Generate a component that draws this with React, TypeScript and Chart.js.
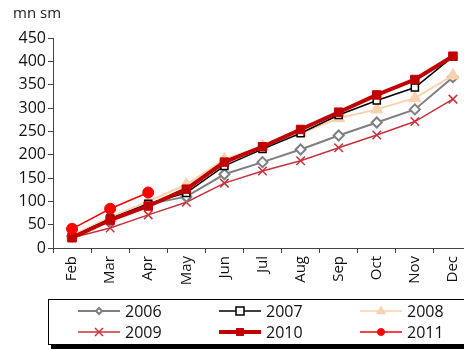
import React, { useEffect, useRef } from "react";
import { Chart, registerables } from "chart.js";

Chart.register(...registerables);

const months = ["Feb", "Mar", "Apr", "May", "Jun", "Jul", "Aug", "Sep", "Oct", "Nov", "Dec"];
const yTicks = [0, 50, 100, 150, 200, 250, 300, 350, 400, 450];
const unitLabel = "mn sm";

const s2006 = [25, 58, 94, 110, 158, 184, 211, 241, 269, 297, 366];
const s2007 = [24, 63, 95, 118, 176, 212, 246, 285, 316, 344, 410];
const s2008 = [27, 66, 100, 136, 190, 218, 246, 278, 297, 321, 370];
const s2009 = [22, 43, 71, 98, 139, 165, 187, 215, 242, 271, 319];
const s2010 = [22, 60, 90, 126, 184, 217, 254, 291, 328, 361, 411];
const s2011 = [41, 84, 119, null, null, null, null, null, null, null, null];

const FONT = "'Open Sans', 'DejaVu Sans', sans-serif";

function drawPoint(ctx: any, style: string, x: number, y: number, r: number, fill: string, stroke: string, lw: number) {
  ctx.save();
  ctx.fillStyle = fill;
  ctx.strokeStyle = stroke;
  ctx.lineWidth = lw;
  ctx.beginPath();
  if (style === "rectRot") {
    ctx.moveTo(x, y - r);
    ctx.lineTo(x + r, y);
    ctx.lineTo(x, y + r);
    ctx.lineTo(x - r, y);
    ctx.closePath();
    ctx.fill();
    ctx.stroke();
  } else if (style === "rect") {
    ctx.rect(x - r, y - r, 2 * r, 2 * r);
    ctx.fill();
    ctx.stroke();
  } else if (style === "triangle") {
    ctx.moveTo(x, y - r * 1.2);
    ctx.lineTo(x + r * 1.1, y + r * 0.7);
    ctx.lineTo(x - r * 1.1, y + r * 0.7);
    ctx.closePath();
    ctx.fill();
    ctx.stroke();
  } else if (style === "crossRot") {
    ctx.moveTo(x - r, y - r);
    ctx.lineTo(x + r, y + r);
    ctx.moveTo(x + r, y - r);
    ctx.lineTo(x - r, y + r);
    ctx.stroke();
  } else {
    ctx.arc(x, y, r, 0, Math.PI * 2);
    ctx.fill();
    ctx.stroke();
  }
  ctx.restore();
}

const legendPlugin = {
  id: "customLegend",
  afterDraw(chart: any) {
    const ctx = chart.ctx;
    ctx.save();
    ctx.fillStyle = "#222";
    ctx.font = `15px ${FONT}`;
    ctx.textBaseline = "middle";
    ctx.textAlign = "left";
    ctx.fillText(unitLabel, 13, 14);

    const bx = 48, by = 299, bw = 430, bh = 45;
    ctx.fillStyle = "#000";
    ctx.fillRect(bx + 3, by + bh + 1, bw, 4);
    ctx.fillStyle = "#fff";
    ctx.fillRect(bx, by, bw, bh);
    ctx.strokeStyle = "#000";
    ctx.lineWidth = 1;
    ctx.strokeRect(bx + 0.5, by + 0.5, bw, bh);

    const cols = [78, 219, 360];
    const rows = [311, 332];
    chart.data.datasets.forEach((ds: any, i: number) => {
      const cx = cols[i % 3];
      const cy = rows[Math.floor(i / 3)];
      ctx.strokeStyle = ds.borderColor;
      ctx.lineWidth = ds.legendLineWidth;
      ctx.beginPath();
      ctx.moveTo(cx, cy);
      ctx.lineTo(cx + 42, cy);
      ctx.stroke();
      drawPoint(ctx, ds.pointStyle, cx + 21, cy, ds.legendRadius, ds.pointBackgroundColor, ds.pointBorderColor, ds.pointBorderWidth);
      ctx.fillStyle = "#111";
      ctx.font = `16px ${FONT}`;
      ctx.textAlign = "left";
      ctx.textBaseline = "middle";
      ctx.fillText(ds.label, cx + 47, cy + 1);
    });
    ctx.restore();
  },
};

export default function App() {
  const ref = useRef<HTMLCanvasElement>(null);
  useEffect(() => {
    document.body.style.margin = "0";
    document.body.style.overflow = "hidden";
    document.documentElement.style.overflow = "hidden";
    const chart = new Chart(ref.current!, {
      type: "line",
      data: {
        labels: months,
        datasets: [
          {
            label: "2006", data: s2006, borderColor: "#7f7f7f", borderWidth: 2,
            pointStyle: "rectRot", pointRadius: 5, pointBackgroundColor: "#ffffff",
            pointBorderColor: "#7f7f7f", pointBorderWidth: 2, order: 4, legendRadius: 3, legendLineWidth: 2,
          } as any,
          {
            label: "2007", data: s2007, borderColor: "#000000", borderWidth: 1.5,
            pointStyle: "rect", pointRadius: 5, pointBackgroundColor: "#ffffff",
            pointBorderColor: "#000000", pointBorderWidth: 1.5, order: 2, legendRadius: 4, legendLineWidth: 1.5,
          },
          {
            label: "2008", data: s2008, borderColor: "#fcd2ae", borderWidth: 2,
            pointStyle: "triangle", pointRadius: 7, pointBackgroundColor: "#fcd2ae",
            pointBorderColor: "#fcd2ae", pointBorderWidth: 1, order: 3, legendRadius: 4, legendLineWidth: 1.5,
          },
          {
            label: "2009", data: s2009, borderColor: "#c8323c", borderWidth: 1.5,
            pointStyle: "crossRot", pointRadius: 6, pointBackgroundColor: "#c8323c",
            pointBorderColor: "#c8323c", pointBorderWidth: 1.5, order: 5, legendRadius: 4, legendLineWidth: 1.5,
          },
          {
            label: "2010", data: s2010, borderColor: "#c00000", borderWidth: 4,
            pointStyle: "rect", pointRadius: 6, pointBackgroundColor: "#c00000",
            pointBorderColor: "#c00000", pointBorderWidth: 1, order: 1, legendRadius: 3.5, legendLineWidth: 4,
          },
          {
            label: "2011", data: s2011, borderColor: "#ff0000", borderWidth: 1.5,
            pointStyle: "circle", pointRadius: 5.5, pointBackgroundColor: "#ff0000",
            pointBorderColor: "#ff0000", pointBorderWidth: 1, order: 0, legendRadius: 3.5, legendLineWidth: 1.5,
          },
        ] as any,
      },
      options: {
        animation: false,
        responsive: false,
        maintainAspectRatio: false,
        spanGaps: false,
        layout: { padding: { left: 0, right: 0, top: 38, bottom: 58 } },
        plugins: { legend: { display: false }, tooltip: { enabled: false }, title: { display: false } },
        elements: { line: { tension: 0 } },
        scales: {
          x: {
            type: "category",
            offset: true,
            afterFit: (scale: any) => {
              scale.height = 44;
              scale.paddingLeft = 0;
              scale.paddingRight = 0;
            },
            grid: { display: true, drawOnChartArea: false, drawTicks: true, tickLength: 5, color: "#444", offset: true },
            border: { display: true, color: "#444", width: 1 },
            ticks: {
              color: "#111", font: { family: FONT, size: 15 }, minRotation: 90, maxRotation: 90,
              autoSkip: false, padding: 3,
            },
          },
          y: {
            min: 0, max: 450,
            afterBuildTicks: (scale: any) => { scale.ticks = yTicks.map((v) => ({ value: v })); },
            afterFit: (scale: any) => { scale.width = 53; },
            grid: { display: true, drawOnChartArea: false, drawTicks: true, tickLength: 5, color: "#444" },
            border: { display: true, color: "#444", width: 1 },
            ticks: { color: "#111", font: { family: FONT, size: 16 }, padding: 2 },
          },
        },
      },
      plugins: [legendPlugin],
    });
    return () => chart.destroy();
  }, []);
  return (
    <div style={{ width: 464, height: 350, overflow: "hidden" }}>
      <canvas ref={ref} width={480} height={350} style={{ display: "block" }} />
    </div>
  );
}
